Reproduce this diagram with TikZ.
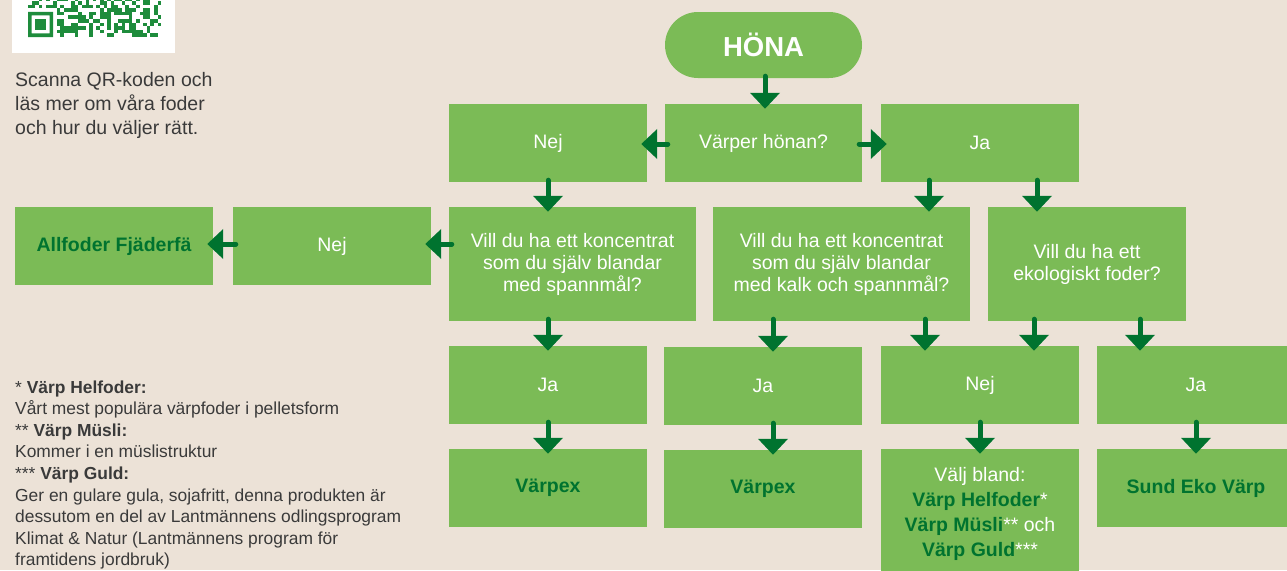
\documentclass[tikz,border=0pt]{standalone}
\usepackage{fontspec}
\setmainfont{Liberation Sans}
\usetikzlibrary{arrows.meta,calc}
\definecolor{bg}{RGB}{236,226,215}
\definecolor{boxg}{RGB}{123,187,86}
\definecolor{dg}{RGB}{0,115,47}
\definecolor{qrg}{RGB}{30,140,60}
\definecolor{txt}{RGB}{58,58,58}
\newcommand\vArr[3]{\draw[arr] ($(#1.south -| #3)+(0,-2)$) -- ($(#2.north -| #3)+(0,5)$);}
\begin{document}
\begin{tikzpicture}[x=1pt,y=-1pt,
  box/.style={fill=boxg, draw=none, minimum width=198pt, minimum height=78pt, inner sep=0pt,
    text=white, font=\fontsize{19.5}{22}\selectfont, align=center},
  prod/.style={font=\fontsize{19.5}{22}\selectfont\bfseries, text=dg},
  arr/.style={draw=dg, line width=5pt, line cap=round, -{Triangle[width=29pt,length=16pt]}},
  side/.style={anchor=base west, inner sep=0pt, text=txt, font=\fontsize{19.5}{24}\selectfont},
  note/.style={anchor=base west, inner sep=0pt, text=txt, font=\fontsize{17.4}{21}\selectfont},
  qr/.style={fill=qrg}
]
\clip (0,0) rectangle (1287,570);
\fill[bg] (0,0) rectangle (1287,570);

% QR code
\fill[white] (12,-5) rectangle (175,53);
\pgfmathsetseed{11}
\foreach \i in {0,...,36}{
  \foreach \j in {0,...,10}{
    \pgfmathsetmacro\r{rnd}
    \pgfmathtruncatemacro\inF{(\i<8)&&(\j<8)}
    \ifnum\inF=0
      \pgfmathtruncatemacro\on{\r<0.5}
      \ifnum\on=1 \fill[qr] (28+\i*3.6, 37-\j*3.6-3.6) rectangle ++(3.6,3.6); \fi
    \fi
  }
}
\fill[qr, even odd rule] (28,11.8) rectangle ++(25.2,25.2) (31.6,15.4) rectangle ++(18,18);
\fill[qr] (35.2,19) rectangle ++(10.8,10.8);

% side text
\node[side] (s1) at (15,86) {Scanna QR-koden och};
\node[side] (s2) at (15,110) {läs mer om våra foder};
\node[side] (s3) at (15,134) {och hur du väljer rätt.};

\node[note] (n1) at (15,393) {* \textbf{Värp Helfoder:}};
\node[note] (n2) at (15,414.6) {Vårt mest populära värpfoder i pelletsform};
\node[note] (n3) at (15,436.2) {** \textbf{Värp Müsli:}};
\node[note] (n4) at (15,457.8) {Kommer i en müslistruktur};
\node[note] (n5) at (15,479.4) {*** \textbf{Värp Guld:}};
\node[note] (n6) at (15,501) {Ger en gulare gula, sojafritt, denna produkten är};
\node[note] (n7) at (15,522.6) {dessutom en del av Lantmännens odlingsprogram};
\node[note] (n8) at (15,544.2) {Klimat \& Natur (Lantmännens program för};
\node[note] (n9) at (15,565.8) {framtidens jordbruk)};

% boxes
\node[box, minimum width=197pt, minimum height=66pt, rounded corners=33pt,
  font=\fontsize{27.5}{30}\selectfont\bfseries] (hona) at (763.5,45) {HÖNA};
\node[box, minimum width=197pt] (varper) at (763.5,143) {Värper hönan?};
\node[box] (nej1) at (548,143) {Nej};
\node[box] (ja1) at (980,143) {Ja};

\node[box, prod] (allf) at (114,246) {Allfoder Fjäderfä};
\node[box] (nej2) at (332,246) {Nej};
\node[box, minimum width=247pt, minimum height=114pt] (vill1) at (572.5,264)
  {Vill du ha ett koncentrat\\som du själv blandar\\med spannmål?};
\node[box, minimum width=257pt, minimum height=114pt] (vill2) at (841.5,264)
  {Vill du ha ett koncentrat\\som du själv blandar\\med kalk och spannmål?};
\node[box, minimum height=114pt] (vill3) at (1087,264)
  {Vill du ha ett\\ekologiskt foder?};

\node[box] (jaA) at (548,385) {Ja};
\node[box] (jaB) at (763,386) {Ja};
\node[box] (nej3) at (980,385) {Nej};
\node[box] (jaC) at (1196,385) {Ja};

\node[box, prod] (varpex1) at (548,488) {Värpex};
\node[box, prod] (varpex2) at (763,489) {Värpex};
\node[box, minimum height=130pt, font=\fontsize{19.5}{25}\selectfont] (valj) at (980,514)
  {Välj bland:\\{\bfseries\color{dg}Värp Helfoder}*\\{\bfseries\color{dg}Värp Müsli}** och\\{\bfseries\color{dg}Värp Guld}***};
\node[box, prod] (sund) at (1196,488) {Sund Eko Värp};

% x positions of vertical connectors
\coordinate (x765) at (765,0);
\coordinate (x548) at (548,0);
\coordinate (x929) at (929,0);
\coordinate (x1037) at (1037,0);
\coordinate (x773) at (773,0);
\coordinate (x925) at (925,0);
\coordinate (x1034) at (1034,0);
\coordinate (x1140) at (1140,0);
\coordinate (x980) at (980,0);
\coordinate (x1196) at (1196,0);

\vArr{hona}{varper}{x765}
\vArr{nej1}{vill1}{x548}
\vArr{ja1}{vill2}{x929}
\vArr{ja1}{vill3}{x1037}
\vArr{vill1}{jaA}{x548}
\vArr{vill2}{jaB}{x773}
\vArr{vill2}{nej3}{x925}
\vArr{vill3}{nej3}{x1034}
\vArr{vill3}{jaC}{x1140}
\vArr{jaA}{varpex1}{x548}
\vArr{jaB}{varpex2}{x773}
\vArr{nej3}{valj}{x980}
\vArr{jaC}{sund}{x1196}

\draw[arr] ($(varper.west)+(3,1)$) -- ($(nej1.east)+(-6,1)$);
\draw[arr] ($(varper.east)+(-3,1)$) -- ($(ja1.west)+(6,1)$);
\draw[arr] ($(vill1.west |- nej2.east)+(3,-2)$) -- ($(nej2.east)+(-6,-2)$);
\draw[arr] ($(nej2.west)+(3,-2)$) -- ($(allf.east)+(-6,-2)$);
\end{tikzpicture}
\end{document}
